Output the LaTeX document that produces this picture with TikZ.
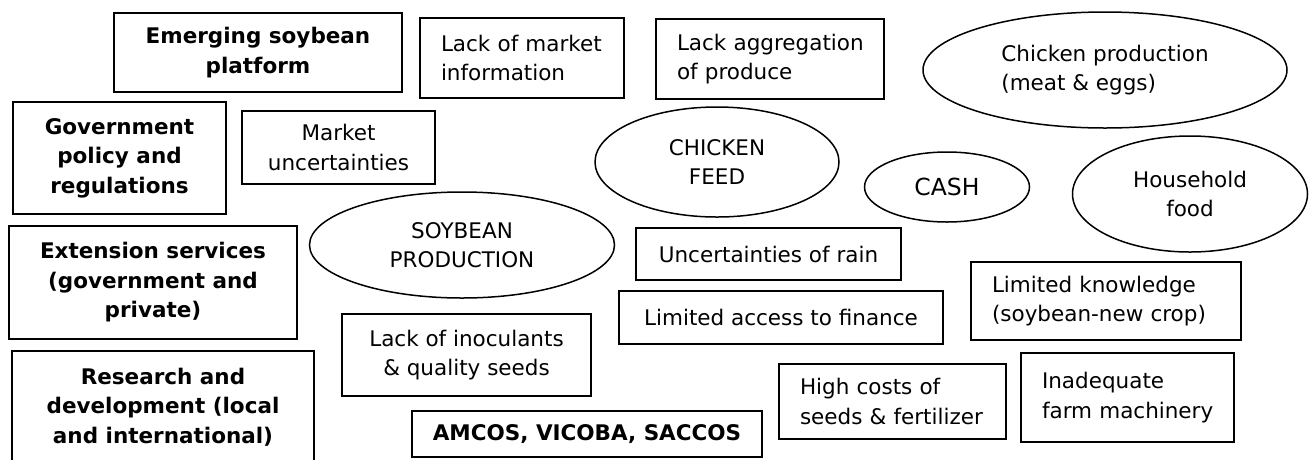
\documentclass[tikz,border=0pt]{standalone}
\usepackage{fontspec}
\setmainfont{DejaVu Sans}
\usetikzlibrary{shapes.geometric}
% left indent inside left-aligned boxes
\newcommand{\ind}{\hspace*{21pt}}
\tikzset{
  base/.style={draw=black, line width=1.7pt, font=\fontsize{21.5}{29.5}\selectfont, inner sep=0pt},
  cbox/.style={base, rectangle, align=center},
  bbox/.style={base, rectangle, align=center, font=\fontsize{21.5}{29.5}\selectfont\bfseries},
  lbox/.style={base, rectangle, align=left},
  oval/.style={base, ellipse, line width=1.5pt, align=center},
}
\begin{document}
\begin{tikzpicture}[x=1pt, y=-1pt]
\useasboundingbox (0,0) rectangle (1312,459);

% actors and support institutions (bold)
\node[bbox, minimum width=288pt, minimum height=79pt] (emerg) at (258,52.5) {Emerging soybean\\platform};
\node[bbox, minimum width=213pt, minimum height=112pt] (govt) at (119.5,158) {Government\\policy and\\regulations};
\node[bbox, minimum width=288pt, minimum height=113pt] (ext) at (153,282.5) {Extension services\\(government and\\private)};
\node[bbox, minimum width=302pt, minimum height=112pt] (rnd) at (163,407) {Research and\\development (local\\and international)};
\node[bbox, minimum width=350pt, minimum height=46pt] (amcos) at (587,434) {AMCOS, VICOBA, SACCOS};

% constraints
\node[lbox, text width=204pt, minimum height=80pt] (mktinfo) at (522,58) {\ind Lack of market\\\ind information};
\node[lbox, text width=228pt, minimum height=80pt] (aggr) at (770,59) {\ind Lack aggregation\\\ind of produce};
\node[cbox, minimum width=193pt, minimum height=73pt] (mktunc) at (338.5,147.5) {Market\\uncertainties};
\node[cbox, minimum width=249pt, minimum height=82pt] (inoc) at (466.5,355) {Lack of inoculants\\\& quality seeds};
\node[cbox, minimum width=265pt, minimum height=52pt] (rain) at (768.5,254) {Uncertainties of rain};
\node[cbox, minimum width=324pt, minimum height=53pt] (finance) at (781,317.5) {Limited access to finance};
\node[lbox, text width=227pt, minimum height=75pt] (costs) at (892.5,401.5) {\ind High costs of\\\ind seeds \& fertilizer};
\node[lbox, text width=270pt, minimum height=78pt] (knowl) at (1106,301) {\ind Limited knowledge\\\ind (soybean-new crop)};
\node[lbox, text width=213pt, minimum height=89pt] (machin) at (1127.5,397.5) {\ind Inadequate\\\ind farm machinery\\[6pt]};

% value chain stages
\node[oval, minimum width=305pt, minimum height=106pt] (soy) at (462,245) {SOYBEAN\\PRODUCTION};
\node[oval, minimum width=244pt, minimum height=110pt] (feed) at (717,162) {CHICKEN\\FEED};
\node[oval, minimum width=364pt, minimum height=116pt, align=left] (chick) at (1105,70) {Chicken production\\(meat \& eggs)};
\node[oval, minimum width=165pt, minimum height=70pt, font=\fontsize{23.5}{29.5}\selectfont] (cash) at (947,187) {CASH};
\node[oval, minimum width=235pt, minimum height=116pt] (food) at (1190,194) {Household\\food};
\end{tikzpicture}
\end{document}
